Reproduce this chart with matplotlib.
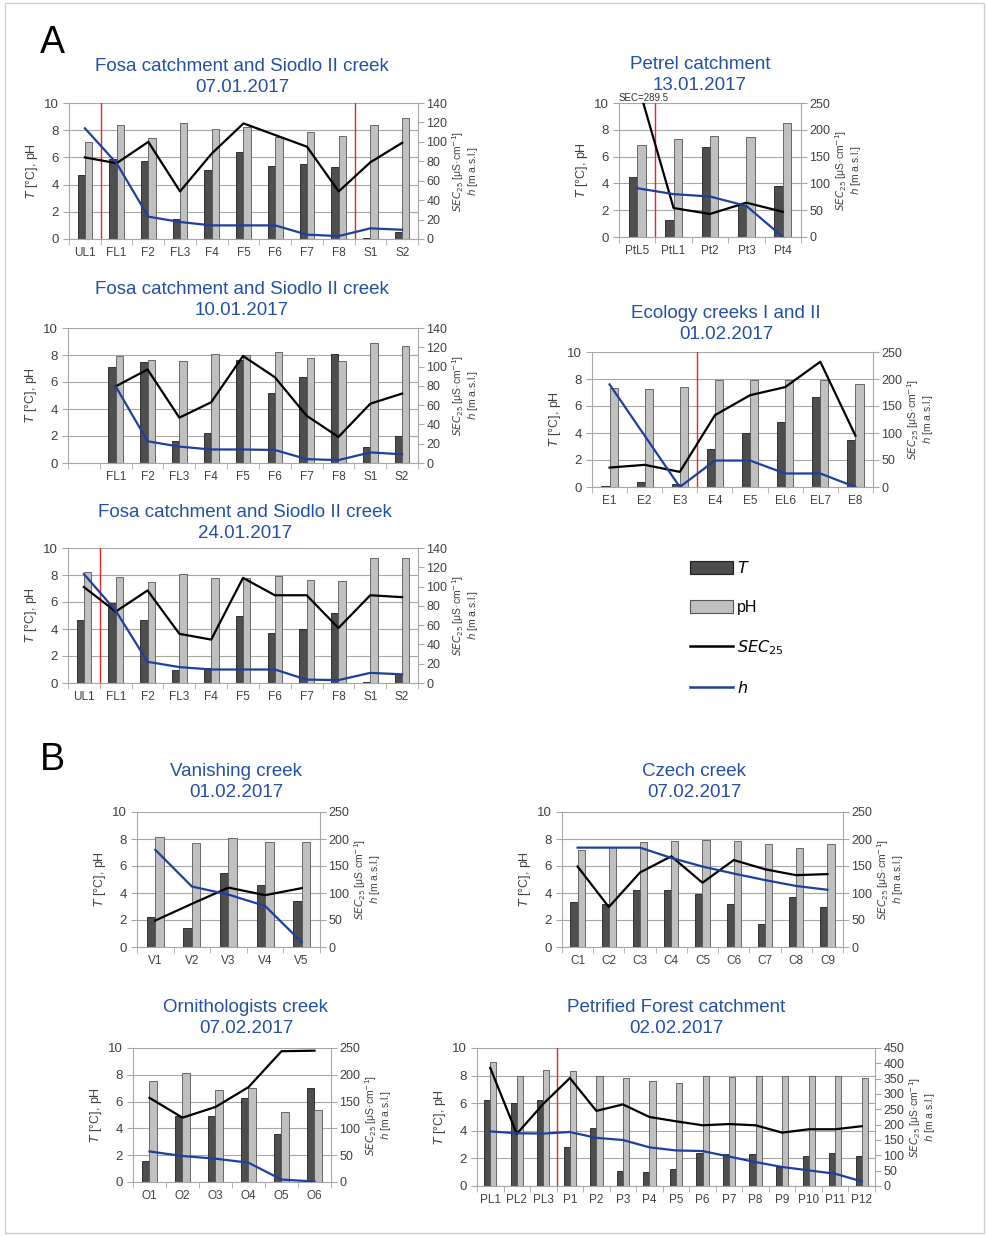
import matplotlib.pyplot as plt
import numpy as np
from matplotlib.patches import Patch, Rectangle
from matplotlib.lines import Line2D

plt.rcParams['font.family'] = ['Liberation Sans', 'DejaVu Sans']

# ---------------- data ----------------
fosa_labels = ['UL1', 'FL1', 'F2', 'FL3', 'F4', 'F5', 'F6', 'F7', 'F8', 'S1', 'S2']

f0701_t = [4.7, 5.9, 5.7, 1.5, 5.1, 6.4, 5.4, 5.5, 5.3, 0.1, 0.5]
f0701_ph = [7.1, 8.4, 7.4, 8.5, 8.1, 8.2, 7.5, 7.9, 7.6, 8.4, 8.9]
f0701_sec = [84, 78, 100, 49, 88, 119, 107, 95, 49, 79, 99]
f0701_h = [114, 78, 23, 17.5, 14, 14, 14, 4.5, 3, 11, 9.5]

f1001_labels = ['', 'FL1', 'F2', 'FL3', 'F4', 'F5', 'F6', 'F7', 'F8', 'S1', 'S2']
f1001_t = [np.nan, 7.1, 7.5, 1.6, 2.2, 7.6, 5.2, 6.4, 8.1, 1.2, 2.0]
f1001_ph = [np.nan, 7.9, 7.65, 7.55, 8.1, 8.0, 8.2, 7.8, 7.55, 8.9, 8.7]
f1001_sec = [np.nan, 79.5, 97, 47, 63, 111, 89, 49, 27, 61.5, 72]
f1001_h = [np.nan, 79.5, 22.5, 17, 14, 14, 13.5, 4, 3, 11, 9]

f2401_t = [4.7, 5.9, 4.7, 1.0, 1.1, 5.0, 3.7, 4.0, 5.2, 0.1, 0.7]
f2401_ph = [8.2, 7.85, 7.5, 8.1, 7.8, 7.8, 7.9, 7.65, 7.55, 9.25, 9.25]
f2401_sec = [99.5, 74, 96, 51, 45, 109, 91, 91, 57, 91, 89]
f2401_h = [113, 75, 22, 16.5, 14, 14, 14, 3.5, 3, 10.5, 9]

petrel_labels = ['PtL5', 'PtL1', 'Pt2', 'Pt3', 'Pt4']
petrel_t = [4.5, 1.3, 6.7, 2.4, 3.8]
petrel_ph = [6.85, 7.35, 7.55, 7.45, 8.5]
petrel_sec = [289.5, 54, 43, 64, 47]
petrel_h = [91, 80, 75.5, 58, 0]

eco_labels = ['E1', 'E2', 'E3', 'E4', 'E5', 'EL6', 'EL7', 'E8']
eco_t = [0.1, 0.4, 0.2, 2.8, 4.0, 4.8, 6.7, 3.5]
eco_ph = [7.3, 7.25, 7.4, 7.95, 7.95, 7.95, 7.95, 7.65]
eco_sec = [36, 41, 28, 133, 170, 185, 232, 95]
eco_h = [190, 95, 0, 49, 49, 25, 25, 0]

van_labels = ['V1', 'V2', 'V3', 'V4', 'V5']
van_t = [2.2, 1.4, 5.5, 4.6, 3.4]
van_ph = [8.15, 7.7, 8.1, 7.8, 7.75]
van_sec = [49, 80, 110, 96, 109]
van_h = [180, 112, 97, 76, 9]

czech_labels = ['C1', 'C2', 'C3', 'C4', 'C5', 'C6', 'C7', 'C8', 'C9']
czech_t = [3.3, 3.2, 4.2, 4.2, 3.9, 3.2, 1.7, 3.7, 3.0]
czech_ph = [7.2, 7.4, 7.8, 7.85, 7.9, 7.85, 7.65, 7.35, 7.6]
czech_sec = [149, 74, 138, 168, 119, 161, 144, 133, 135]
czech_h = [184, 184, 184, 165, 149, 136, 124, 113, 106]

orn_labels = ['O1', 'O2', 'O3', 'O4', 'O5', 'O6']
orn_t = [1.6, 4.9, 4.9, 6.3, 3.6, 7.0]
orn_ph = [7.55, 8.1, 6.85, 7.05, 5.25, 5.4]
orn_sec = [157, 120, 140, 177, 244, 245]
orn_h = [57, 48.5, 43.5, 36, 4.5, 1]

pf_labels = ['PL1', 'PL2', 'PL3', 'P1', 'P2', 'P3', 'P4', 'P5', 'P6', 'P7', 'P8',
             'P9', 'P10', 'P11', 'P12']
pf_t = [6.2, 6.0, 6.2, 2.8, 4.2, 1.1, 1.0, 1.2, 2.4, 2.3, 2.3, 1.4, 2.2, 2.4, 2.2]
pf_ph = [9.0, 8.0, 8.4, 8.3, 7.95, 7.85, 7.6, 7.45, 8.0, 7.9, 8.0, 8.0, 7.95, 7.95, 7.8]
pf_sec = [385, 170, 268, 352, 245, 266, 225, 211, 198, 202, 198, 174, 185, 185, 195]
pf_h = [178, 172, 171, 176, 157, 150, 126, 116, 114, 96, 78, 62, 51, 40, 15]

# ---------------- style ----------------
W, H = 987, 1236
DARK = '#4e4e4e'
LIGHT = '#c0c0c0'
BLUE = '#1f3f9c'
TITLE = '#2350a6'
RED = '#e8242a'
GRID = '#a6a6a6'
TXT = '#404040'
BW = 0.23

fig = plt.figure(figsize=(W / 100, H / 100), dpi=100)
fig.add_artist(Rectangle((5 / W, 3 / H), 979 / W, 1230 / H, transform=fig.transFigure,
                         fill=False, edgecolor='#cfcfcf', lw=1))


def panel(box, labels, t, ph, sec, h, sec_max, sec_step, title, title_x, title_y, splits=()):
    left, top, right, bottom = box
    ax = fig.add_axes([left / W, 1 - bottom / H, (right - left) / W, (bottom - top) / H])
    x = np.arange(len(labels))
    ax.bar(x - BW / 2, t, BW, color=DARK, edgecolor='#1e1e1e', lw=0.6, zorder=2)
    ax.bar(x + BW / 2, ph, BW, color=LIGHT, edgecolor='#555555', lw=0.6, zorder=2)
    ax.set_xlim(-0.5, len(labels) - 0.5)
    ax.set_ylim(0, 10)
    ax.set_yticks(range(0, 11, 2))
    ax.yaxis.grid(True, color=GRID, lw=0.8)
    ax.set_axisbelow(True)
    ax.set_xticks(x)
    ax.set_xticklabels(labels)
    ax.set_xticks(np.arange(len(labels) + 1) - 0.5, minor=True)
    ax.tick_params(axis='x', which='major', length=0, pad=6, labelsize=8.5, labelcolor=TXT)
    ax.tick_params(axis='x', which='minor', length=4, color=GRID)
    ax.tick_params(axis='y', length=4, color=GRID, labelsize=9.5, labelcolor=TXT)
    for s in ['top', 'right']:
        ax.spines[s].set_visible(False)
    for s in ['left', 'bottom']:
        ax.spines[s].set_color(GRID)
    ax.set_ylabel(r'$T$ [°C], pH', fontsize=9, color=TXT, labelpad=3)
    for s in splits:
        ax.axvline(s, color=RED, lw=1, zorder=3)

    ax2 = ax.twinx()
    ax2.plot(x, sec, color='black', lw=1.6, zorder=4)
    ax2.plot(x, h, color=BLUE, lw=1.6, zorder=4)
    ax2.set_ylim(0, sec_max)
    ax2.set_yticks(np.arange(0, sec_max + 1, sec_step))
    ax2.tick_params(axis='y', length=4, color=GRID, labelsize=9, labelcolor=TXT, pad=2)
    for s in ['top', 'left', 'bottom']:
        ax2.spines[s].set_visible(False)
    ax2.spines['right'].set_color(GRID)
    ax2.set_ylabel('$SEC_{25}$ [μS·cm$^{-1}$]\n$h$ [m a.s.l.]', fontsize=7.5,
                   color=TXT, labelpad=2, linespacing=1.0)
    fig.text(title_x / W, 1 - title_y / H, title, ha='center', va='center',
             fontsize=13.5, color=TITLE, linespacing=1.3)
    return ax, ax2


panel((69, 103, 418, 239), fosa_labels, f0701_t, f0701_ph, f0701_sec, f0701_h, 140, 20,
      'Fosa catchment and Siodlo II creek\n07.01.2017', 242, 77, splits=(0.5, 8.5))
axp, axp2 = panel((619, 103, 801, 237), petrel_labels, petrel_t, petrel_ph, petrel_sec,
                  petrel_h, 250, 50, 'Petrel catchment\n13.01.2017', 700, 75, splits=(0.5,))
axp.text(0.0, 1.0, 'SEC=289.5', transform=axp.transAxes, fontsize=7, color='#303030',
         va='bottom', ha='left')
panel((68, 328, 418, 463), f1001_labels, f1001_t, f1001_ph, f1001_sec, f1001_h, 140, 20,
      'Fosa catchment and Siodlo II creek\n10.01.2017', 242, 300)
panel((592, 352, 873, 487), eco_labels, eco_t, eco_ph, eco_sec, eco_h, 250, 50,
      'Ecology creeks I and II\n01.02.2017', 726, 324, splits=(2.5,))
panel((68, 548, 418, 683), fosa_labels, f2401_t, f2401_ph, f2401_sec, f2401_h, 140, 20,
      'Fosa catchment and Siodlo II creek\n24.01.2017', 245, 523, splits=(0.5,))
panel((137, 812, 320, 947), van_labels, van_t, van_ph, van_sec, van_h, 250, 50,
      'Vanishing creek\n01.02.2017', 236, 782)
panel((562, 812, 843, 947), czech_labels, czech_t, czech_ph, czech_sec, czech_h, 250, 50,
      'Czech creek\n07.02.2017', 694, 782)
panel((133, 1048, 331, 1182), orn_labels, orn_t, orn_ph, orn_sec, orn_h, 250, 50,
      'Ornithologists creek\n07.02.2017', 246, 1018)
panel((477, 1048, 875, 1186), pf_labels, pf_t, pf_ph, pf_sec, pf_h, 450, 50,
      'Petrified Forest catchment\n02.02.2017', 676, 1018, splits=(2.5,))

fig.text(40 / W, 1 - 43 / H, 'A', fontsize=27, ha='left', va='center', color='black')
fig.text(40 / W, 1 - 760 / H, 'B', fontsize=27, ha='left', va='center', color='black')

handles = [Patch(facecolor=DARK, edgecolor='#1e1e1e', lw=0.8),
           Patch(facecolor=LIGHT, edgecolor='#555555', lw=0.8),
           Line2D([], [], color='black', lw=1.8),
           Line2D([], [], color=BLUE, lw=1.8)]
fig.legend(handles, ['$T$', 'pH', '$SEC_{25}$', '$h$'], loc='upper left',
           bbox_to_anchor=(676 / W, 1 - 546 / H), frameon=False, fontsize=11.5,
           handlelength=2.7, handleheight=0.9, labelspacing=1.45, handletextpad=0.2)

fig.savefig('out.png', dpi=100)
